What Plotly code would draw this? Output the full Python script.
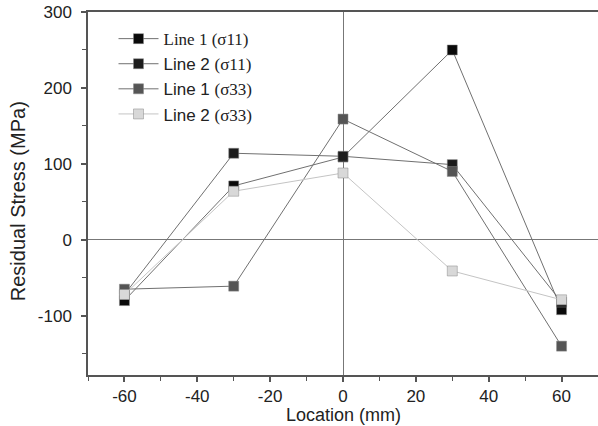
import plotly.graph_objects as go

locations = [-60, -30, 0, 30, 60]
line1_s11 = [-80, 71, 109, 250, -92]
line2_s11 = [-72, 114, 110, 99, -82]
line1_s33 = [-65, -61, 159, 90, -140]
line2_s33 = [-72, 64, 88, -41, -79]

x_tickvals = [-60, -40, -20, 0, 20, 40, 60]
x_ticktext = ["-60", "-40", "-20", "0", "20", "40", "60"]
y_tickvals = [-100, 0, 100, 200, 300]
y_ticktext = ["-100", "0", "100", "200", "300"]

series_names = [
    "<span style='font-family:Liberation Serif'>Line 1 (σ11)</span>",
    "Line 2 <span style='font-family:Liberation Serif'>(σ11)</span>",
    "Line 1 <span style='font-family:Liberation Serif'>(σ33)</span>",
    "Line 2 <span style='font-family:Liberation Serif'>(σ33)</span>",
]
series_values = [line1_s11, line2_s11, line1_s33, line2_s33]
marker_colors = ["#0a0a0a", "#1c1c1c", "#555555", "#d8d8d8"]
line_colors = ["#707070", "#707070", "#707070", "#c4c4c4"]

fig = go.Figure()
for name, vals, mc, lc in zip(series_names, series_values, marker_colors, line_colors):
    fig.add_trace(go.Scatter(
        x=locations, y=vals, name=name, mode="lines+markers",
        line=dict(color=lc, width=1),
        marker=dict(symbol="square", size=10, color=mc,
                    line=dict(color="#888888", width=0.5)),
    ))

fig.update_layout(
    width=598, height=426,
    margin=dict(l=88, r=0, t=12, b=51),
    paper_bgcolor="white", plot_bgcolor="white",
    font=dict(family="Liberation Sans, Arial", size=17, color="#222"),
    legend=dict(x=0.05, y=0.975, xanchor="left", yanchor="top",
                bgcolor="rgba(0,0,0,0)", font=dict(size=17, color="#222"),
                tracegroupgap=0, itemwidth=40),
    showlegend=True,
    annotations=[
        dict(text="Location (mm)", xref="paper", yref="paper",
             x=0.5, y=-0.11, xanchor="center", yanchor="middle",
             showarrow=False, font=dict(size=18, color="#222")),
        dict(text="Residual Stress (MPa)", xref="paper", yref="paper",
             x=-0.137, y=0.479, xanchor="center", yanchor="middle",
             textangle=-90, showarrow=False, font=dict(size=20, color="#222")),
    ],
)
fig.update_xaxes(
    range=[-70, 70], tickvals=x_tickvals, ticktext=x_ticktext,
    showgrid=False, zeroline=True, zerolinecolor="#777", zerolinewidth=1,
    showline=True, linecolor="#555", linewidth=1.5, mirror=True,
    ticks="outside", ticklen=5, tickcolor="#555", tickwidth=1.5,
    ticklabelstandoff=0,
    minor=dict(dtick=10, ticks="outside", ticklen=4, tickcolor="#555", tickwidth=1),
    automargin=False,
)
fig.update_yaxes(
    range=[-178, 300], tickvals=y_tickvals, ticktext=y_ticktext,
    showgrid=False, zeroline=True, zerolinecolor="#777", zerolinewidth=1,
    showline=True, linecolor="#555", linewidth=1.5, mirror=False,
    ticks="outside", ticklen=5, tickcolor="#555", tickwidth=1.5,
    ticklabelstandoff=6,
    minor=dict(dtick=50, ticks="outside", ticklen=4, tickcolor="#555", tickwidth=1),
    automargin=False,
)

fig.write_html("out.html")
